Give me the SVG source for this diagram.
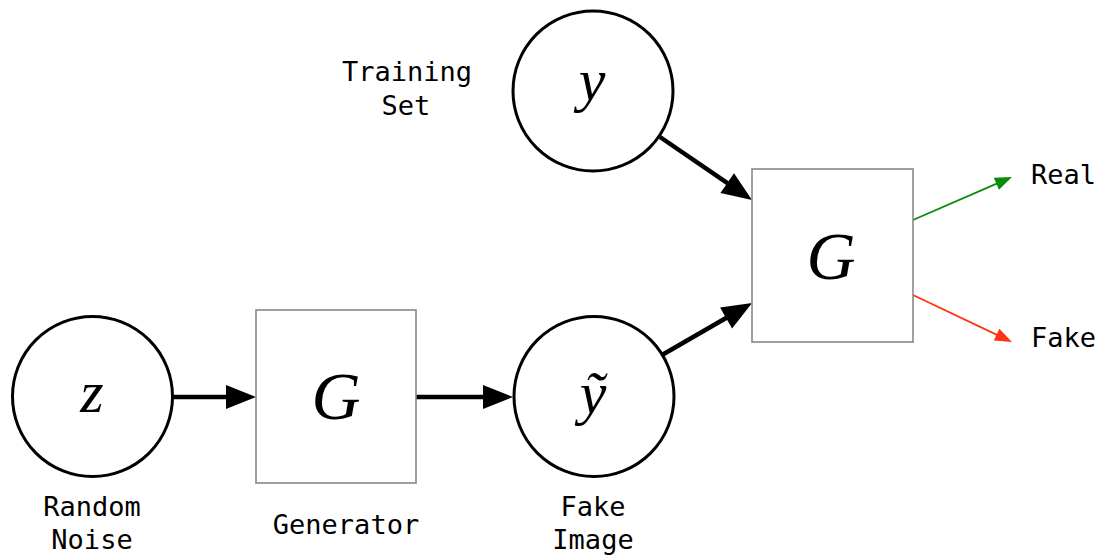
<svg xmlns="http://www.w3.org/2000/svg" width="1100" height="556" viewBox="0 0 1100 556">
  <style>
    .var { fill: none; stroke: #000; stroke-width: 3; }
    .box { fill: #fff; stroke: #888; stroke-width: 1.6; }
    .math { font-family: "Liberation Serif", "DejaVu Serif", serif; font-style: italic; font-size: 68px; fill: #000; text-anchor: middle; }
    .math.lower { font-size: 60px; }
    .label { font-family: "DejaVu Sans Mono", "Liberation Mono", monospace; font-size: 27px; fill: #000; text-anchor: middle; }
    .label.left { text-anchor: start; }
    .edge { fill: none; stroke: #000; stroke-width: 4.5; }
    .real { fill: none; stroke: #0a8a0a; stroke-width: 1.8; }
    .fake { fill: none; stroke: #ff3311; stroke-width: 1.8; }
  </style>
  <defs>
    <marker id="head" markerUnits="userSpaceOnUse" markerWidth="32" markerHeight="24" refX="2" refY="12" orient="auto" overflow="visible">
      <path d="M0,0 L30,12 L0,24 z" fill="#000"/>
    </marker>
    <marker id="headReal" markerUnits="userSpaceOnUse" markerWidth="18" markerHeight="14" refX="1" refY="6.5" orient="auto" overflow="visible">
      <path d="M0,0 L17,6.5 L0,13 z" fill="#0a8a0a"/>
    </marker>
    <marker id="headFake" markerUnits="userSpaceOnUse" markerWidth="18" markerHeight="14" refX="1" refY="6.5" orient="auto" overflow="visible">
      <path d="M0,0 L17,6.5 L0,13 z" fill="#ff3311"/>
    </marker>
  </defs>

  <rect width="1100" height="556" fill="#fff"/>

  <!-- connectors -->
  <g id="connectors">
    <line class="edge" x1="173" y1="397" x2="228" y2="397" marker-end="url(#head)"/>
    <line class="edge" x1="416" y1="397" x2="485" y2="397" stroke-linecap="round" marker-end="url(#head)"/>
    <line class="edge" x1="660" y1="137" x2="728.9" y2="184.2" marker-end="url(#head)"/>
    <line class="edge" x1="662" y1="355" x2="727.8" y2="317" marker-end="url(#head)"/>
    <line class="real" x1="913" y1="220" x2="997.3" y2="183.4" marker-end="url(#headReal)"/>
    <line class="fake" x1="913" y1="295" x2="997.5" y2="335.1" marker-end="url(#headFake)"/>
  </g>

  <!-- noise input -->
  <g id="node-z">
    <circle class="var" cx="92.5" cy="396.5" r="80"/>
    <text class="math lower" x="92" y="412">z</text>
    <text class="label" x="92" y="516">Random</text>
    <text class="label" x="92" y="549">Noise</text>
  </g>

  <!-- generator -->
  <g id="node-generator">
    <rect class="box" x="256" y="310" width="160" height="173"/>
    <text class="math" x="336" y="419">G</text>
    <text class="label" x="346" y="534">Generator</text>
  </g>

  <!-- generated sample -->
  <g id="node-fake-image">
    <circle class="var" cx="594" cy="396.5" r="80"/>
    <text class="math lower" x="593" y="413">ỹ</text>
    <text class="label" x="593" y="516">Fake</text>
    <text class="label" x="593" y="549">Image</text>
  </g>

  <!-- real sample -->
  <g id="node-training-set">
    <circle class="var" cx="593" cy="91" r="80"/>
    <text class="math lower" x="592" y="100">y</text>
    <text class="label" x="407" y="81">Training</text>
    <text class="label" x="406" y="115">Set</text>
  </g>

  <!-- discriminator -->
  <g id="node-discriminator">
    <rect class="box" x="752" y="169" width="161" height="173"/>
    <text class="math" x="831" y="279">G</text>
  </g>

  <!-- outputs -->
  <g id="node-real">
    <text class="label left" x="1031" y="184">Real</text>
  </g>
  <g id="node-fake">
    <text class="label left" x="1031" y="347">Fake</text>
  </g>
</svg>
